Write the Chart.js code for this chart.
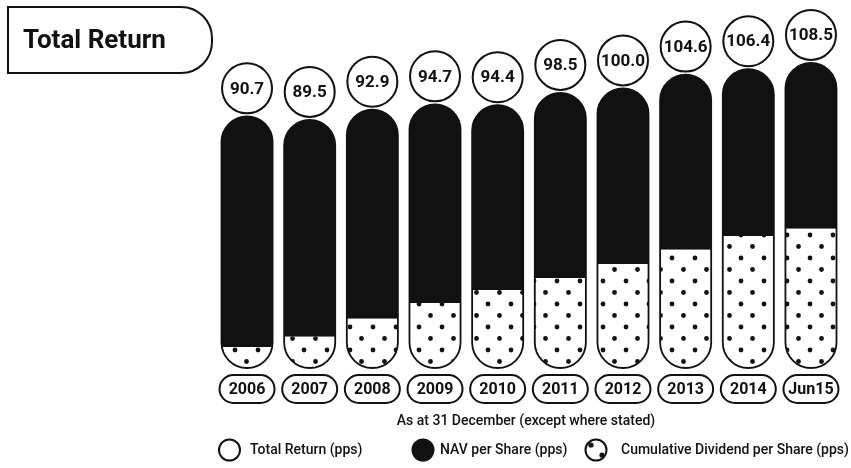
<!DOCTYPE html>
<html>
<head>
<meta charset="utf-8">
<script src="https://cdn.jsdelivr.net/npm/chart.js@4.4.0/dist/chart.umd.min.js"></script>
<style>
html,body{margin:0;padding:0;background:#fff;}
#wrap{position:relative;width:851px;height:468px;}
</style>
</head>
<body>
<div id="wrap"><canvas id="c" width="851" height="468"></canvas></div>
<script>
// ---- data ----
const categories = ['2006','2007','2008','2009','2010','2011','2012','2013','2014','Jun15'];
const totalReturn = [90.7, 89.5, 92.9, 94.7, 94.4, 98.5, 100.0, 104.6, 106.4, 108.5];
const cumulativeDividend = [13.8, 17.2, 23.2, 28.5, 32.8, 36.8, 41.5, 46.2, 50.8, 53.2];
const navPerShare = [76.9, 72.3, 69.7, 66.2, 61.6, 61.7, 58.5, 58.4, 55.6, 55.3];
const titleText = 'Total Return';
const subtitleText = 'As at 31 December (except where stated)';
const legendLabels = ['Total Return (pps)', 'NAV per Share (pps)', 'Cumulative Dividend per Share (pps)'];

const INK = '#111';

function makeDotPattern(){
  const c = document.createElement('canvas');
  c.width = 23; c.height = 23;
  const g = c.getContext('2d');
  g.fillStyle = '#fff'; g.fillRect(0,0,23,23);
  g.fillStyle = INK;
  [[5,5],[16.5,16.5]].forEach(([x,y])=>{g.beginPath();g.arc(x,y,2.4,0,Math.PI*2);g.fill();});
  return g.createPattern(c,'repeat');
}

function capsulePath(ctx, c){
  const r = c.w/2;
  ctx.moveTo(c.x - r, c.top + r);
  ctx.arc(c.x, c.top + r, r, Math.PI, 0);
  ctx.lineTo(c.x + r, c.bottom - r);
  ctx.arc(c.x, c.bottom - r, r, 0, Math.PI);
  ctx.closePath();
}

function getCapsules(chart){
  const topEls = chart.getDatasetMeta(1).data;
  const botEls = chart.getDatasetMeta(0).data;
  const ys = chart.scales.y;
  const yb = ys.getPixelForValue(ys.min);
  return topEls.map((el,i)=>{
    const p = el.getProps(['x','y','width'], true);
    const b = botEls[i].getProps(['base'], true);
    return {x:p.x, w:p.width, top:p.y, bottom:Math.min(b.base, yb)};
  });
}

function pill(ctx, cx, cy, w, h){
  const r = h/2;
  ctx.beginPath();
  ctx.moveTo(cx - w/2 + r, cy - r);
  ctx.lineTo(cx + w/2 - r, cy - r);
  ctx.arc(cx + w/2 - r, cy, r, -Math.PI/2, Math.PI/2);
  ctx.lineTo(cx - w/2 + r, cy + r);
  ctx.arc(cx - w/2 + r, cy, r, Math.PI/2, Math.PI*1.5);
  ctx.closePath();
}

const capsulePlugin = {
  id: 'capsules',
  beforeDatasetsDraw(chart){
    const ctx = chart.ctx;
    ctx.save();
    ctx.beginPath();
    getCapsules(chart).forEach(c=>capsulePath(ctx,c));
    ctx.clip();
  },
  afterDatasetsDraw(chart){
    const ctx = chart.ctx;
    ctx.restore();
    const caps = getCapsules(chart);
    ctx.save();
    ctx.strokeStyle = INK;
    caps.forEach((c,i)=>{
      ctx.lineWidth = 1.8;
      ctx.beginPath(); capsulePath(ctx,c); ctx.stroke();
      ctx.lineWidth = 2;
      const cy = c.top - 28;
      ctx.beginPath(); ctx.arc(c.x, cy, 25, 0, Math.PI*2);
      ctx.fillStyle = '#fff'; ctx.fill(); ctx.stroke();
      ctx.fillStyle = INK;
      ctx.font = 'bold 17px Roboto';
      ctx.textAlign = 'center'; ctx.textBaseline = 'middle';
      ctx.fillText(totalReturn[i].toFixed(1), c.x, cy + 1);
      pill(ctx, c.x, 389, 55, 28); ctx.stroke();
      ctx.font = 'bold 16px Roboto';
      ctx.fillText(categories[i], c.x, 390);
    });
    ctx.restore();
  },
  afterDraw(chart){
    const ctx = chart.ctx;
    ctx.save();
    ctx.strokeStyle = INK; ctx.fillStyle = INK; ctx.lineWidth = 2;
    ctx.beginPath();
    ctx.moveTo(8,7); ctx.lineTo(180,7);
    ctx.arcTo(212,7,212,40,31);
    ctx.arcTo(212,73,180,73,31);
    ctx.lineTo(8,73); ctx.closePath(); ctx.stroke();
    ctx.font = 'bold 26px Roboto';
    ctx.textAlign = 'left'; ctx.textBaseline = 'alphabetic';
    ctx.fillText(titleText, 23, 48);
    ctx.font = '500 14px Roboto';
    ctx.textAlign = 'center'; ctx.textBaseline = 'middle';
    ctx.fillText(subtitleText, 526, 421);
    const ly = 450;
    ctx.textAlign = 'left';
    ctx.beginPath(); ctx.arc(229.5, ly, 10.5, 0, Math.PI*2); ctx.stroke();
    ctx.fillText(legendLabels[0], 250, ly);
    ctx.beginPath(); ctx.arc(423, ly, 11.5, 0, Math.PI*2); ctx.fill();
    ctx.fillText(legendLabels[1], 440, ly);
    ctx.beginPath(); ctx.arc(596, ly, 10.5, 0, Math.PI*2); ctx.stroke();
    [[-5,-5],[6,5]].forEach(([dx,dy])=>{ctx.beginPath();ctx.arc(596+dx, ly+dy, 2.6, 0, Math.PI*2);ctx.fill();});
    ctx.fillText(legendLabels[2], 621, ly);
    ctx.restore();
  }
};

const dots = makeDotPattern();

new Chart(document.getElementById('c'), {
  type: 'bar',
  data: {
    labels: categories,
    datasets: [
      { label: legendLabels[2], data: cumulativeDividend, backgroundColor: dots, borderWidth: 0, stack: 's' },
      { label: legendLabels[1], data: navPerShare, backgroundColor: INK, borderWidth: 0, stack: 's' }
    ]
  },
  options: {
    responsive: false,
    animation: false,
    layout: { padding: { left: 215.7, right: 8.7, top: 28.4, bottom: 100 } },
    datasets: { bar: { categoryPercentage: 1, barPercentage: 0.815 } },
    plugins: { legend: { display: false }, tooltip: { enabled: false }, title: { display: false } },
    scales: {
      x: { display: false, stacked: true },
      y: { display: false, stacked: true, min: 6.8, max: 120 }
    }
  },
  plugins: [capsulePlugin]
});
</script>
</body>
</html>
